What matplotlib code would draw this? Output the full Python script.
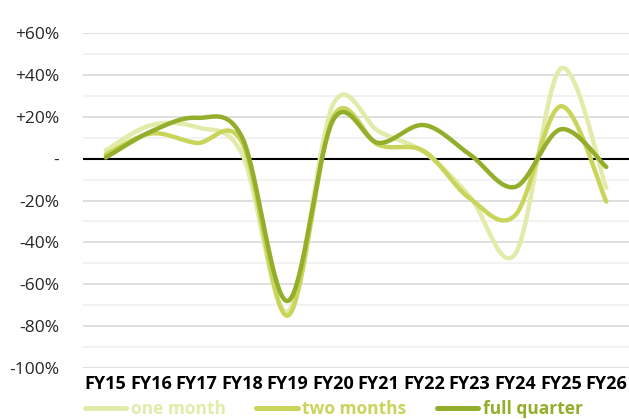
import numpy as np
import matplotlib
matplotlib.use("Agg")
import matplotlib.pyplot as plt
from matplotlib.ticker import MultipleLocator

plt.rcParams['font.family'] = ['Open Sans', 'DejaVu Sans']

years = ["FY15", "FY16", "FY17", "FY18", "FY19", "FY20", "FY21",
         "FY22", "FY23", "FY24", "FY25", "FY26"]
one_month = [4, 16, 15, 2, -73, 26, 13, 3, -18, -45.5, 43, -14]
two_months = [2, 12, 7.5, 7.5, -75, 20, 6.5, 3.5, -19, -27, 25, -20.5]
full_quarter = [0.5, 13, 19.5, 10, -68, 18.5, 7.5, 16, 2, -13.5, 14, -4]

series = [
    ("one month", one_month, "#e3ebaa"),
    ("two months", two_months, "#c9d55a"),
    ("full quarter", full_quarter, "#92ae2a"),
]


def smooth(xs, ys, n=40):
    """Catmull-Rom style smoothing through every point (Bezier handles = neighbour slope / 6)."""
    P = np.column_stack([xs, ys]).astype(float)
    ext = np.vstack([P[0], P, P[-1]])
    out = []
    for i in range(len(P) - 1):
        p0, p1, p2, p3 = ext[i], ext[i + 1], ext[i + 2], ext[i + 3]
        c1 = p1 + (p2 - p0) / 6.0
        c2 = p2 - (p3 - p1) / 6.0
        t = np.linspace(0, 1, n, endpoint=(i == len(P) - 2))[:, None]
        b = ((1 - t) ** 3) * p1 + 3 * ((1 - t) ** 2) * t * c1 \
            + 3 * (1 - t) * t ** 2 * c2 + t ** 3 * p2
        out.append(b)
    out = np.vstack(out)
    return out[:, 0], out[:, 1]


W, H = 629, 419
fig = plt.figure(figsize=(W / 100, H / 100), dpi=100)
ax = fig.add_axes([83 / W, 1 - 368 / H, (W - 83) / W, (368 - 33) / H])

x = np.arange(len(years))
handles = []
for label, vals, color in series:
    sx, sy = smooth(x, vals)
    h, = ax.plot(sx, sy, color=color, lw=3.2, solid_capstyle='round',
                 label=label, zorder=3)
    handles.append(h)

ax.axhline(0, color="black", lw=1.5, zorder=2)

ax.set_xlim(-0.5, len(years) - 0.5)
ax.set_ylim(-100, 60)
ax.yaxis.set_major_locator(MultipleLocator(20))
ax.yaxis.set_minor_locator(MultipleLocator(10))
ax.grid(axis='y', which='major', color="#d9d9d9", lw=1.2, zorder=0)
ax.grid(axis='y', which='minor', color="#f0f0f0", lw=1.2, zorder=0)
ax.set_axisbelow(True)

ytick_vals = np.arange(-100, 61, 20)
ax.set_yticks(ytick_vals)
ax.set_yticklabels(["-" if v == 0 else (f"+{v}%" if v > 0 else f"{v}%")
                    for v in ytick_vals], fontsize=12.5, color="#262626")
ax.set_xticks(x)
ax.set_xticklabels(years, fontsize=13, fontweight='bold', color="black")
ax.tick_params(axis='both', which='both', length=0)
ax.tick_params(axis='y', pad=17)
ax.tick_params(axis='x', pad=5)
for s in ax.spines.values():
    s.set_visible(False)

leg = fig.legend(handles=handles, loc='lower left', bbox_to_anchor=(69 / W, -15 / H),
                 ncol=3, frameon=False, handlelength=2.4, handletextpad=0.25,
                 columnspacing=1.75, prop={'size': 12.5, 'weight': 'bold'})
for txt, (_, _, color) in zip(leg.get_texts(), series):
    txt.set_color(color)
for lh in leg.get_lines():
    lh.set_linewidth(3.6)

fig.savefig("out.png", dpi=100)
